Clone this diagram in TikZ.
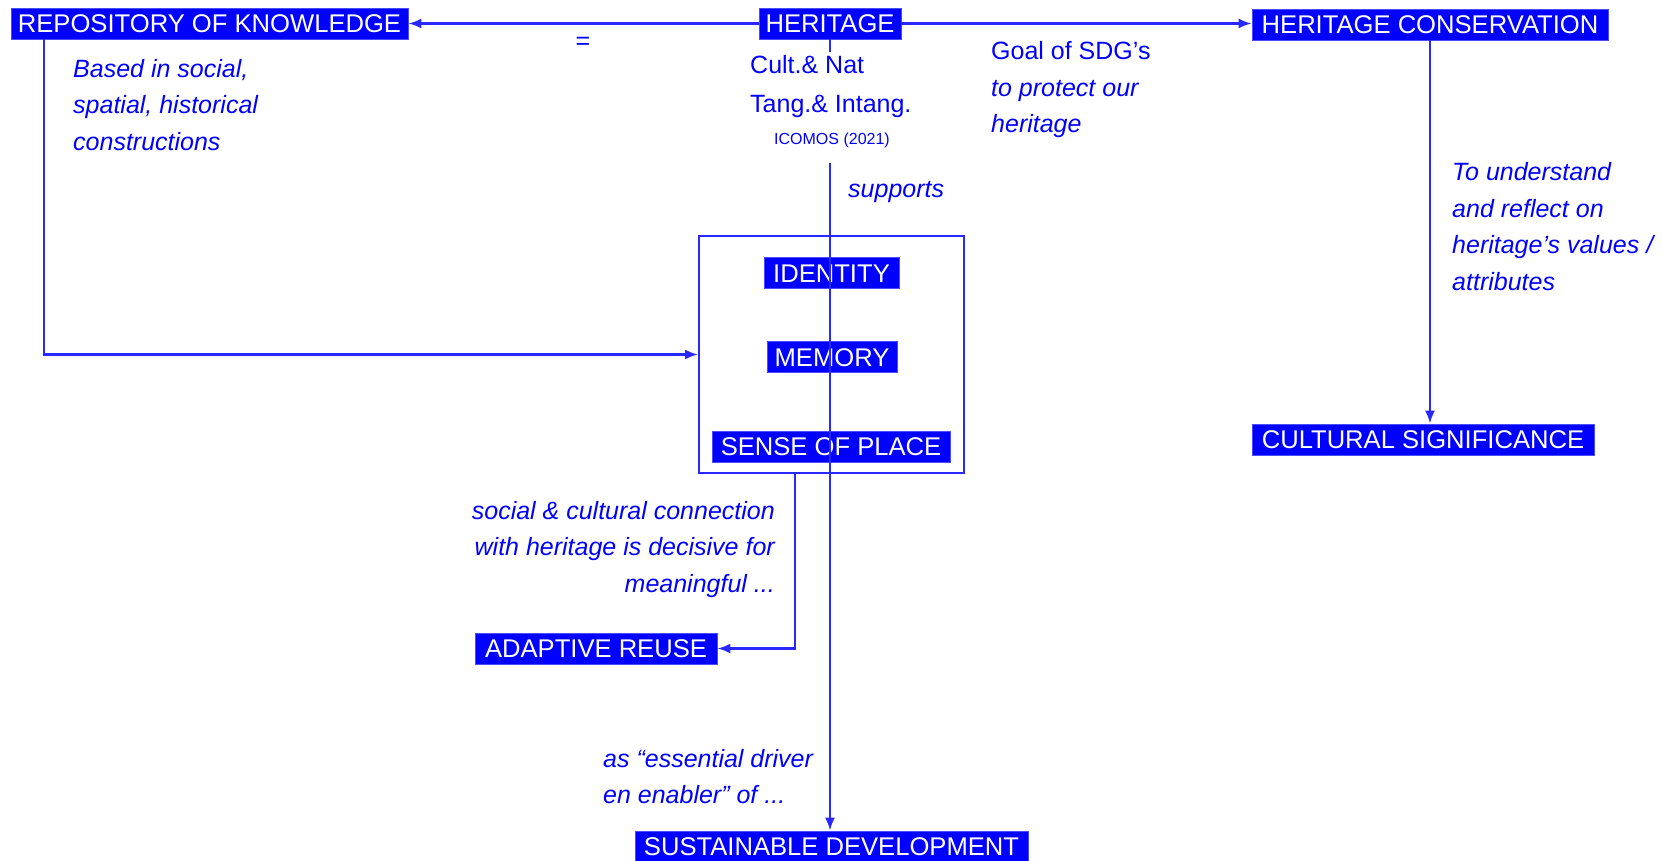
\documentclass[tikz,border=0pt]{standalone}
\usepackage{fontspec}
\setmainfont{Liberation Sans}
\usetikzlibrary{arrows.meta}
\definecolor{hblue}{RGB}{0,0,255}
\definecolor{lblue}{RGB}{40,40,255}
\newcommand\hbfont{\fontsize{25.6}{30}\selectfont}
\newcommand\hlfont{\fontsize{25}{36.5}\selectfont}
\newcommand\hkfont{\fontsize{25}{39}\selectfont}
\newcommand\hsfont{\fontsize{16}{19}\selectfont}
\begin{document}
\begin{tikzpicture}[x=1pt,y=-1pt,
  box/.style={fill=hblue, draw=hblue!70, line width=0.8pt, text=white, font=\hbfont,
    inner sep=0pt, text height=18.5pt, text depth=0pt, minimum height=31pt},
  conn/.style={draw=lblue, line width=2.2pt},
  arr/.style={conn, -{Latex[length=13pt,width=10pt]}},
  lbl/.style={text=hblue, font=\hlfont, inner sep=0pt},
  it/.style={font=\hlfont\itshape}]
\useasboundingbox (0,0) rectangle (1662,860);
% boxes
\node[box, minimum width=397pt] (REPO) at (209.5,23.5) {REPOSITORY OF KNOWLEDGE};
\node[box, minimum width=142pt] (HER) at (830,23.5) {HERITAGE};
\node[box, minimum width=356pt] (HC) at (1430,24.5) {HERITAGE CONSERVATION};
\node[box, minimum width=342pt] (CS) at (1423,439.5) {CULTURAL SIGNIFICANCE};
\node[draw=lblue, line width=2pt, minimum width=265pt, minimum height=237pt, inner sep=0pt] (frame) at (831.5,354.5) {};
\node[box, minimum width=135pt] (ID) at (831.5,273) {IDENTITY};
\node[box, minimum width=130pt] (MEM) at (832,357) {MEMORY};
\node[box, minimum width=238pt] (SOP) at (831,446.5) {SENSE OF PLACE};
\node[box, minimum width=242pt] (AR) at (596,648.5) {ADAPTIVE REUSE};
\node[box, minimum width=393pt] (SD) at (831.5,846.5) {SUSTAINABLE DEVELOPMENT};
% connectors
\draw[arr] (HER.west) -- (REPO.east);
\draw[arr] (HER.east) -- (HER.east -| HC.west);
\draw[arr] (HC.south) -- (HC.south |- CS.north);
\draw[arr] ([xshift=-165.5pt]REPO.south) |- (frame.west);
\draw[arr] ([xshift=-36.5pt]frame.south) |- (AR.east);
\coordinate (gapT) at (830,52);
\coordinate (gapB) at (830,163);
\draw[conn] (HER.south) -- (gapT);
\draw[arr] (gapB) -- (gapB |- SD.north);
% labels
\node[lbl] (eq) at (583,43) {=};
\node[lbl, it, anchor=west, align=left] (based) at (73,105) {Based in social,\\spatial, historical\\constructions};
\node[lbl, font=\hkfont, anchor=west, align=left] (kind) at (750,87) {Cult.\& Nat\\Tang.\& Intang.};
\node[lbl, font=\hsfont] (icomos) at (832,140) {ICOMOS (2021)};
\node[lbl, it, anchor=west] (supp) at (848,192) {supports};
\node[lbl, anchor=west, align=left] (goal) at (991,90) {Goal of SDG’s\\\itshape to protect our\\\itshape heritage};
\node[lbl, it, anchor=west, align=left] (under) at (1452,226.5) {To understand\\and reflect on\\heritage’s values /\\attributes};
\node[lbl, it, anchor=east, align=right] (social) at (775,549.5) {social \& cultural connection\\with heritage is decisive for\\meaningful ...};
\node[lbl, it, anchor=west, align=left] (driver) at (603,776.5) {as “essential driver\\en enabler” of ...};
\end{tikzpicture}
\end{document}
